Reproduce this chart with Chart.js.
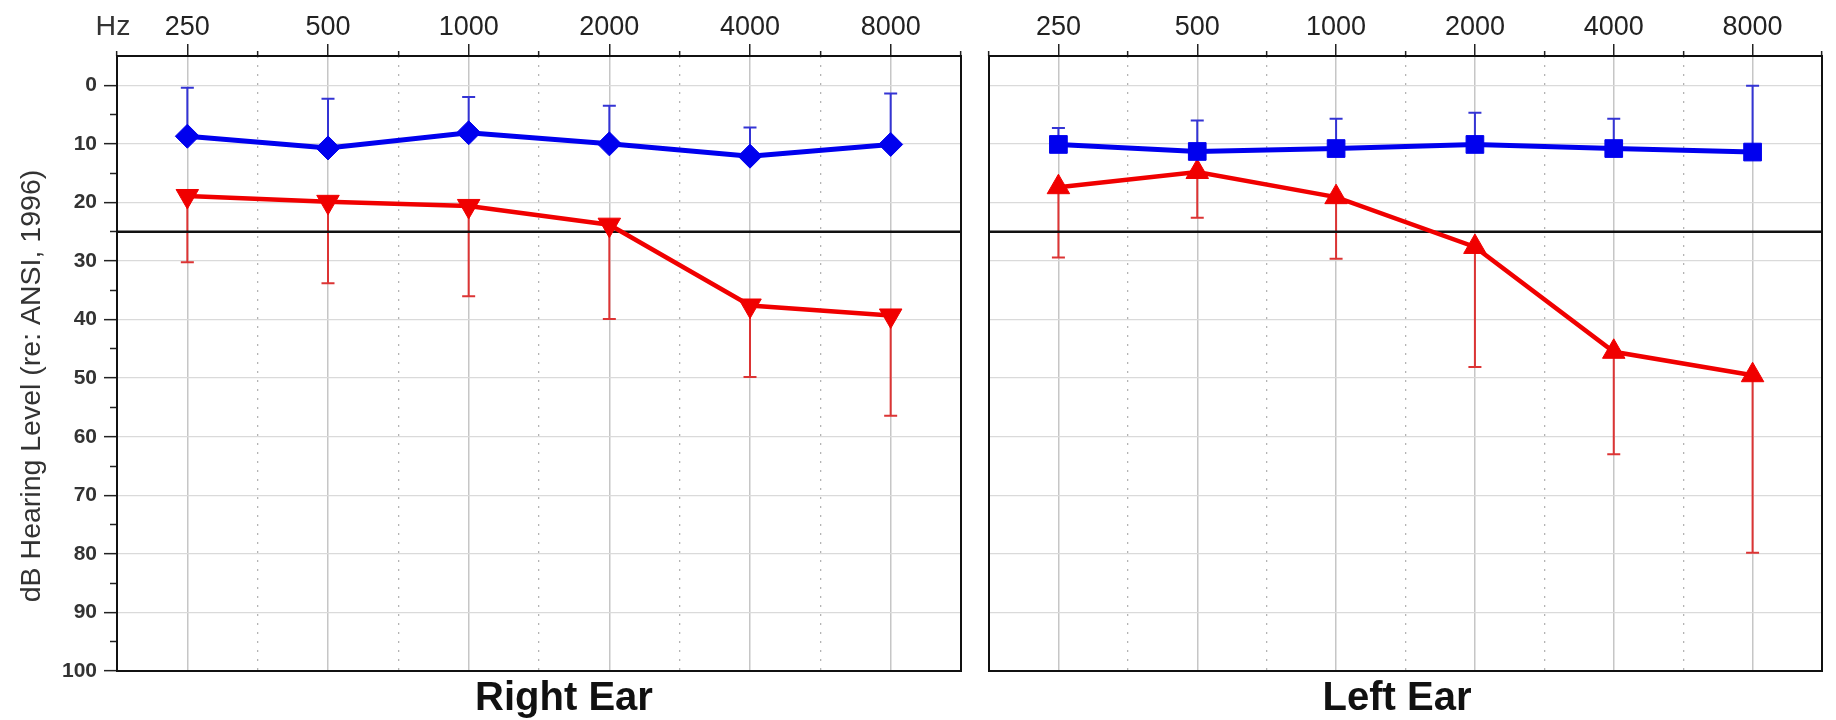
<!DOCTYPE html>
<html>
<head>
<meta charset="utf-8">
<script src="https://cdn.jsdelivr.net/npm/chart.js@4.4.1/dist/chart.umd.min.js"></script>
<style>
  html, body { margin: 0; padding: 0; background: #fff; }
  #wrap { position: relative; width: 1836px; height: 720px; }
  canvas { position: absolute; top: 0; }
  #left { left: 0; }
  #right { left: 975px; }
</style>
</head>
<body>
<div id="wrap">
  <canvas id="left" width="975" height="720"></canvas>
  <canvas id="right" width="861" height="720"></canvas>
</div>
<script>
const family = "'Liberation Sans', Arial, sans-serif";

// octave positions 0..5 on the x axis, labelled with the frequency
const freqLabels = ["250", "500", "1000", "2000", "4000", "8000"];
const freqIndex = [0, 1, 2, 3, 4, 5];
const halfOctaves = [-0.5, 0.5, 1.5, 2.5, 3.5, 4.5, 5.5];
const yMajorTicks = [0, 10, 20, 30, 40, 50, 60, 70, 80, 90, 100];
const yMinorTicks = [5, 15, 25, 35, 45, 55, 65, 75, 85, 95];
const normalLimit = 25;

// right ear
const rightBlue = [8.7, 10.7, 8.1, 10.0, 12.1, 10.1];
const rightBlueErr = [8.3, 8.4, 6.1, 6.5, 4.9, 8.7];
const rightRed = [18.9, 19.9, 20.6, 23.8, 37.6, 39.3];
const rightRedErr = [11.3, 13.9, 15.4, 16.1, 12.2, 17.1];

// left ear
const leftBlue = [10.1, 11.3, 10.8, 10.1, 10.8, 11.4];
const leftBlueErr = [2.8, 5.3, 5.1, 5.4, 5.1, 11.3];
const leftRed = [17.4, 14.8, 19.1, 27.6, 45.5, 49.5];
const leftRedErr = [12.0, 7.8, 10.5, 20.5, 17.5, 30.3];

const BLUE = "#0000ee";
const RED = "#f00000";

const toPoints = (vals) => vals.map((v, i) => ({ x: freqIndex[i], y: v }));

const errorBars = {
  id: "errorBars",
  beforeDatasetsDraw(chart) {
    const { ctx } = chart;
    const x = chart.scales.x;
    const y = chart.scales.y;
    chart.data.datasets.forEach((ds) => {
      if (!ds.errors) return;
      ctx.save();
      ctx.strokeStyle = ds.errorColor;
      ctx.lineWidth = 2;
      ds.data.forEach((p, i) => {
        const px = x.getPixelForValue(p.x);
        const y0 = y.getPixelForValue(p.y);
        const y1 = y.getPixelForValue(p.y + ds.errorDir * ds.errors[i]);
        ctx.beginPath();
        ctx.moveTo(px, y0);
        ctx.lineTo(px, y1);
        ctx.moveTo(px - 6.5, y1);
        ctx.lineTo(px + 6.5, y1);
        ctx.stroke();
      });
      ctx.restore();
    });
  },
};

const frame = {
  id: "frame",
  afterDraw(chart, args, opts) {
    const { ctx, chartArea: a } = chart;
    ctx.save();
    ctx.strokeStyle = "#111";
    ctx.lineWidth = 2;
    ctx.strokeRect(a.left, a.top, a.right - a.left, a.bottom - a.top);

    ctx.fillStyle = "#111";
    ctx.textAlign = "center";
    ctx.textBaseline = "alphabetic";
    ctx.font = "bold 40px " + family;
    ctx.fillText(opts.title, opts.titleX, 710);

    if (opts.yTitle) {
      ctx.fillStyle = "#333";
      ctx.font = "28.5px " + family;
      ctx.fillText("Hz", 113, 35);
      ctx.translate(40, 386);
      ctx.rotate(-Math.PI / 2);
      ctx.fillText(opts.yTitle, 0, 0);
    }
    ctx.restore();
  },
};

function buildConfig(blue, blueErr, blueStyle, blueRadius, red, redErr, redRotation, showY, frameOpts) {
  return {
    type: "line",
    data: {
      datasets: [
        {
          data: toPoints(blue),
          xAxisID: "x",
          yAxisID: "y",
          borderColor: BLUE,
          backgroundColor: BLUE,
          borderWidth: 5,
          pointStyle: blueStyle,
          pointRadius: blueRadius,
          pointBorderWidth: 1,
          errors: blueErr,
          errorDir: -1,
          errorColor: "#3434d4",
        },
        {
          data: toPoints(red),
          xAxisID: "x",
          yAxisID: "y",
          borderColor: RED,
          backgroundColor: RED,
          borderWidth: 4.5,
          pointStyle: "triangle",
          rotation: redRotation,
          pointRadius: 13,
          pointBorderWidth: 1,
          errors: redErr,
          errorDir: 1,
          errorColor: "#dc3434",
        },
        {
          data: [{ x: -0.5, y: normalLimit }, { x: 5.5, y: normalLimit }],
          xAxisID: "x",
          yAxisID: "y",
          borderColor: "#111",
          borderWidth: 2.5,
          pointRadius: 0,
        },
      ],
    },
    options: {
      responsive: false,
      animation: false,
      layout: {
        padding: showY
          ? { left: 0, right: 7, top: 0, bottom: 49 }
          : { left: 7, right: 2, top: 0, bottom: 49 },
      },
      plugins: {
        legend: { display: false },
        tooltip: { enabled: false },
        frame: frameOpts,
      },
      scales: {
        x: {
          type: "linear",
          position: "top",
          min: -0.5,
          max: 5.5,
          weight: 1,
          afterBuildTicks: (s) => { s.ticks = freqIndex.map((v) => ({ value: v })); },
          afterFit: (s) => { s.height = 56; },
          ticks: {
            autoSkip: false,
            maxRotation: 0,
            padding: 0,
            color: "#222",
            font: { size: 27, family },
            callback: (v) => freqLabels[v],
          },
          grid: { color: "#c6c6c6", lineWidth: 1.5, tickLength: 12, tickColor: "#222", tickWidth: 1.5 },
          border: { display: false },
        },
        xMinor: {
          type: "linear",
          position: "top",
          min: -0.5,
          max: 5.5,
          weight: 0,
          afterBuildTicks: (s) => { s.ticks = halfOctaves.map((v) => ({ value: v })); },
          afterFit: (s) => { s.height = 0; },
          ticks: { display: false },
          grid: { color: "#b4b4b4", lineWidth: 1.3, tickLength: 5, tickColor: "#222", tickWidth: 1.5 },
          border: { display: false, dash: [2, 7] },
        },
        y: {
          type: "linear",
          position: "left",
          reverse: true,
          min: -5,
          max: 100,
          weight: 1,
          afterBuildTicks: (s) => { s.ticks = yMajorTicks.map((v) => ({ value: v })); },
          afterFit: (s) => { s.width = showY ? 117 : 0; },
          ticks: {
            display: showY,
            padding: 7,
            color: "#333",
            font: { size: 21, weight: "bold", family },
          },
          grid: { color: "#dadada", lineWidth: 1.3, drawTicks: showY, tickLength: 13, tickColor: "#222", tickWidth: 1.5 },
          border: { display: false },
        },
        yMinor: {
          type: "linear",
          position: "left",
          reverse: true,
          min: -5,
          max: 100,
          weight: 0,
          display: showY,
          afterBuildTicks: (s) => { s.ticks = yMinorTicks.map((v) => ({ value: v })); },
          afterFit: (s) => { s.width = 0; },
          ticks: { display: false },
          grid: { drawOnChartArea: false, tickLength: 7, tickColor: "#222", tickWidth: 1.5 },
          border: { display: false },
        },
      },
    },
    plugins: [errorBars, frame],
  };
}

new Chart(
  document.getElementById("left"),
  buildConfig(rightBlue, rightBlueErr, "rectRot", 12, rightRed, rightRedErr, 180, true, {
    title: "Right Ear",
    titleX: 564,
    yTitle: "dB Hearing Level (re: ANSI, 1996)",
  })
);

new Chart(
  document.getElementById("right"),
  buildConfig(leftBlue, leftBlueErr, "rect", 12.5, leftRed, leftRedErr, 0, false, {
    title: "Left Ear",
    titleX: 1397 - 975,
  })
);
</script>
</body>
</html>
